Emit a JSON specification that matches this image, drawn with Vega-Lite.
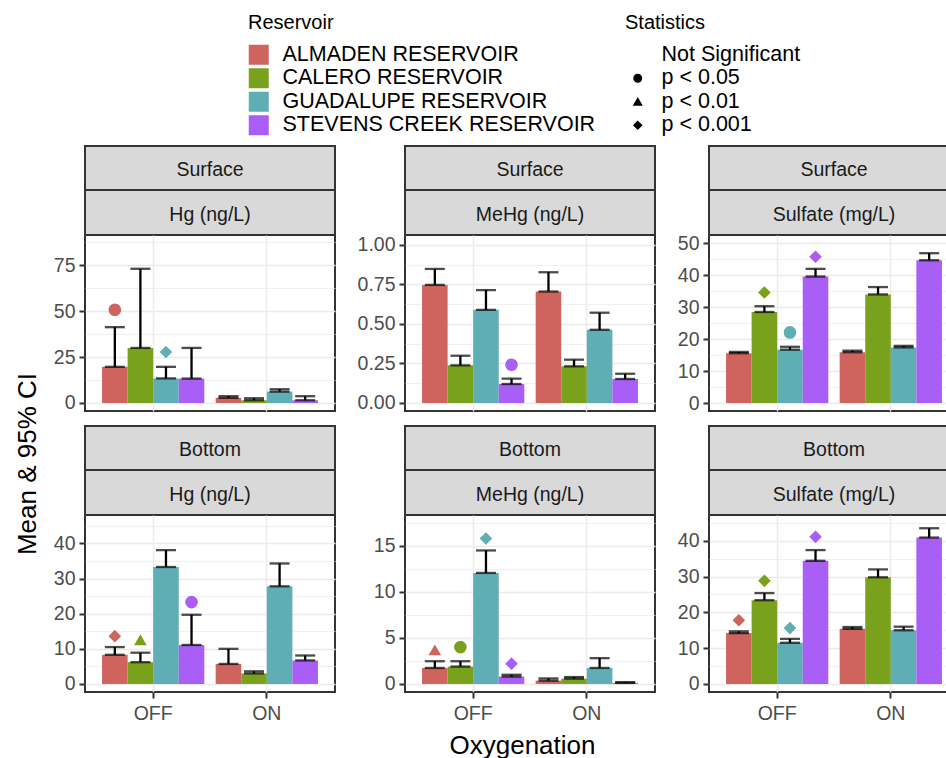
{
"$schema": "https://vega.github.io/schema/vega-lite/v6.json",
"padding": {"left": 12, "top": 13, "right": 0, "bottom": 0},
"columns": 3,
"spacing": {"row": 0, "column": 54},
"bounds": "flush",
"align": "each",
"datasets": {"d": [
{"pan":"S-Hg","oxy":"OFF","res":"ALMADEN RESERVOIR","mean":19.7,"upper":41.3,"stat":"p < 0.05","sy":50.8},
{"pan":"S-Hg","oxy":"OFF","res":"CALERO RESERVOIR","mean":30.0,"upper":73.1},
{"pan":"S-Hg","oxy":"OFF","res":"GUADALUPE RESERVOIR","mean":13.4,"upper":19.7,"stat":"p < 0.001","sy":27.8},
{"pan":"S-Hg","oxy":"OFF","res":"STEVENS CREEK RESERVOIR","mean":13.3,"upper":30.0},
{"pan":"S-Hg","oxy":"ON","res":"ALMADEN RESERVOIR","mean":2.8,"upper":3.7},
{"pan":"S-Hg","oxy":"ON","res":"CALERO RESERVOIR","mean":1.5,"upper":2.6},
{"pan":"S-Hg","oxy":"ON","res":"GUADALUPE RESERVOIR","mean":6.2,"upper":7.5},
{"pan":"S-Hg","oxy":"ON","res":"STEVENS CREEK RESERVOIR","mean":1.5,"upper":3.7},
{"pan":"S-MeHg","oxy":"OFF","res":"ALMADEN RESERVOIR","mean":0.747,"upper":0.848},
{"pan":"S-MeHg","oxy":"OFF","res":"CALERO RESERVOIR","mean":0.238,"upper":0.299},
{"pan":"S-MeHg","oxy":"OFF","res":"GUADALUPE RESERVOIR","mean":0.589,"upper":0.714},
{"pan":"S-MeHg","oxy":"OFF","res":"STEVENS CREEK RESERVOIR","mean":0.120,"upper":0.154,"stat":"p < 0.05","sy":0.242},
{"pan":"S-MeHg","oxy":"ON","res":"ALMADEN RESERVOIR","mean":0.705,"upper":0.827},
{"pan":"S-MeHg","oxy":"ON","res":"CALERO RESERVOIR","mean":0.232,"upper":0.274},
{"pan":"S-MeHg","oxy":"ON","res":"GUADALUPE RESERVOIR","mean":0.463,"upper":0.571},
{"pan":"S-MeHg","oxy":"ON","res":"STEVENS CREEK RESERVOIR","mean":0.152,"upper":0.185},
{"pan":"S-SO4","oxy":"OFF","res":"ALMADEN RESERVOIR","mean":15.6,"upper":16.0},
{"pan":"S-SO4","oxy":"OFF","res":"CALERO RESERVOIR","mean":28.5,"upper":30.3,"stat":"p < 0.001","sy":34.6},
{"pan":"S-SO4","oxy":"OFF","res":"GUADALUPE RESERVOIR","mean":16.7,"upper":17.6,"stat":"p < 0.05","sy":22.1},
{"pan":"S-SO4","oxy":"OFF","res":"STEVENS CREEK RESERVOIR","mean":39.6,"upper":42.0,"stat":"p < 0.001","sy":45.8},
{"pan":"S-SO4","oxy":"ON","res":"ALMADEN RESERVOIR","mean":15.9,"upper":16.4},
{"pan":"S-SO4","oxy":"ON","res":"CALERO RESERVOIR","mean":34.0,"upper":36.3},
{"pan":"S-SO4","oxy":"ON","res":"GUADALUPE RESERVOIR","mean":17.4,"upper":17.9},
{"pan":"S-SO4","oxy":"ON","res":"STEVENS CREEK RESERVOIR","mean":44.7,"upper":46.9},
{"pan":"B-Hg","oxy":"OFF","res":"ALMADEN RESERVOIR","mean":8.3,"upper":10.5,"stat":"p < 0.001","sy":13.6},
{"pan":"B-Hg","oxy":"OFF","res":"CALERO RESERVOIR","mean":6.2,"upper":8.9,"stat":"p < 0.01","sy":12.6},
{"pan":"B-Hg","oxy":"OFF","res":"GUADALUPE RESERVOIR","mean":33.3,"upper":38.1},
{"pan":"B-Hg","oxy":"OFF","res":"STEVENS CREEK RESERVOIR","mean":11.1,"upper":19.7,"stat":"p < 0.05","sy":23.3},
{"pan":"B-Hg","oxy":"ON","res":"ALMADEN RESERVOIR","mean":5.7,"upper":10.0},
{"pan":"B-Hg","oxy":"ON","res":"CALERO RESERVOIR","mean":3.0,"upper":3.6},
{"pan":"B-Hg","oxy":"ON","res":"GUADALUPE RESERVOIR","mean":27.8,"upper":34.3},
{"pan":"B-Hg","oxy":"ON","res":"STEVENS CREEK RESERVOIR","mean":6.7,"upper":8.1},
{"pan":"B-MeHg","oxy":"OFF","res":"ALMADEN RESERVOIR","mean":1.74,"upper":2.47,"stat":"p < 0.01","sy":3.7},
{"pan":"B-MeHg","oxy":"OFF","res":"CALERO RESERVOIR","mean":1.89,"upper":2.47,"stat":"p < 0.05","sy":4.0},
{"pan":"B-MeHg","oxy":"OFF","res":"GUADALUPE RESERVOIR","mean":12.06,"upper":14.5,"stat":"p < 0.001","sy":15.8},
{"pan":"B-MeHg","oxy":"OFF","res":"STEVENS CREEK RESERVOIR","mean":0.80,"upper":1.0,"stat":"p < 0.001","sy":2.2},
{"pan":"B-MeHg","oxy":"ON","res":"ALMADEN RESERVOIR","mean":0.36,"upper":0.6},
{"pan":"B-MeHg","oxy":"ON","res":"CALERO RESERVOIR","mean":0.58,"upper":0.75},
{"pan":"B-MeHg","oxy":"ON","res":"GUADALUPE RESERVOIR","mean":1.74,"upper":2.8},
{"pan":"B-MeHg","oxy":"ON","res":"STEVENS CREEK RESERVOIR","mean":0.11,"upper":0.2},
{"pan":"B-SO4","oxy":"OFF","res":"ALMADEN RESERVOIR","mean":14.2,"upper":14.7,"stat":"p < 0.001","sy":17.8},
{"pan":"B-SO4","oxy":"OFF","res":"CALERO RESERVOIR","mean":23.4,"upper":25.4,"stat":"p < 0.001","sy":28.8},
{"pan":"B-SO4","oxy":"OFF","res":"GUADALUPE RESERVOIR","mean":11.5,"upper":12.6,"stat":"p < 0.001","sy":15.6},
{"pan":"B-SO4","oxy":"OFF","res":"STEVENS CREEK RESERVOIR","mean":34.4,"upper":37.4,"stat":"p < 0.001","sy":41.1},
{"pan":"B-SO4","oxy":"ON","res":"ALMADEN RESERVOIR","mean":15.4,"upper":15.9},
{"pan":"B-SO4","oxy":"ON","res":"CALERO RESERVOIR","mean":29.8,"upper":32.0},
{"pan":"B-SO4","oxy":"ON","res":"GUADALUPE RESERVOIR","mean":15.0,"upper":16.0},
{"pan":"B-SO4","oxy":"ON","res":"STEVENS CREEK RESERVOIR","mean":40.9,"upper":43.5}
]},
"concat": [
{"width":250,"height":44,"view":{"fill":"#D9D9D9","stroke":"#333333","strokeWidth":2},"data":{"values":[{"t":"Surface"}]},"mark":{"type":"text","fontSize":19.5,"color":"#1A1A1A","dy":2},"encoding":{"text":{"field":"t","type":"nominal"}}},
{"width":250,"height":44,"view":{"fill":"#D9D9D9","stroke":"#333333","strokeWidth":2},"data":{"values":[{"t":"Surface"}]},"mark":{"type":"text","fontSize":19.5,"color":"#1A1A1A","dy":2},"encoding":{"text":{"field":"t","type":"nominal"}}},
{"width":250,"height":44,"view":{"fill":"#D9D9D9","stroke":"#333333","strokeWidth":2},"data":{"values":[{"t":"Surface"}]},"mark":{"type":"text","fontSize":19.5,"color":"#1A1A1A","dy":2},"encoding":{"text":{"field":"t","type":"nominal"}}},
{"width":250,"height":45,"view":{"fill":"#D9D9D9","stroke":"#333333","strokeWidth":2},"data":{"values":[{"t":"Hg (ng/L)"}]},"mark":{"type":"text","fontSize":19.5,"color":"#1A1A1A","dy":2},"encoding":{"text":{"field":"t","type":"nominal"}}},
{"width":250,"height":45,"view":{"fill":"#D9D9D9","stroke":"#333333","strokeWidth":2},"data":{"values":[{"t":"MeHg (ng/L)"}]},"mark":{"type":"text","fontSize":19.5,"color":"#1A1A1A","dy":2},"encoding":{"text":{"field":"t","type":"nominal"}}},
{"width":250,"height":45,"view":{"fill":"#D9D9D9","stroke":"#333333","strokeWidth":2},"data":{"values":[{"t":"Sulfate (mg/L)"}]},"mark":{"type":"text","fontSize":19.5,"color":"#1A1A1A","dy":2},"encoding":{"text":{"field":"t","type":"nominal"}}},
{"width":250,"height":176,"view":{"stroke":"#333333","strokeWidth":2},"data":{"name":"d"},"transform":[{"filter":"datum.pan === 'S-Hg'"}],
 "encoding":{"x":{"field":"oxy","type":"nominal","scale":{"domain":["OFF","ON"],"paddingInner":0.1,"paddingOuter":0.15},"axis":{"labels":false,"ticks":false,"grid":true,"bandPosition":0.5,"title":null}},
  "xOffset":{"field":"res","type":"nominal","scale":{"domain":["ALMADEN RESERVOIR","CALERO RESERVOIR","GUADALUPE RESERVOIR","STEVENS CREEK RESERVOIR"],"paddingInner":0,"paddingOuter":0}}},
 "layer":[
  {"mark":{"type":"bar"},"encoding":{"y":{"field":"mean","type":"quantitative","scale":{"domain":[-4.36,91.5],"nice":false,"zero":false},"axis":{"values":[0,25,50,75],"grid":true,"title":null}},
    "color":{"field":"res","type":"nominal","scale":{"domain":["ALMADEN RESERVOIR","CALERO RESERVOIR","GUADALUPE RESERVOIR","STEVENS CREEK RESERVOIR"],"range":["#CF635E","#7AA11B","#5FAEB5","#A95EF6"]},
     "legend":{"title":"Reservoir","orient":"none","legendX":163,"legendY":-133,"symbolType":"square","symbolSize":400,"symbolStrokeWidth":0,"labelOffset":13,"rowPadding":0.5,"titlePadding":11}}}},
  {"mark":{"type":"rule","color":"#000000","strokeWidth":2.3},"encoding":{"y":{"field":"mean","type":"quantitative","scale":{"domain":[-4.36,91.5],"nice":false,"zero":false},"axis":{"values":[12.5,37.5,62.5,87.5],"grid":true,"gridWidth":0.7,"labels":false,"ticks":false,"title":null}},"y2":{"field":"upper"}}},
  {"transform":[{"fold":["mean","upper"],"as":["k","v"]}],"mark":{"type":"tick","color":"#000000","size":20,"thickness":2.3},"encoding":{"y":{"field":"v","type":"quantitative","scale":{"domain":[-4.36,91.5],"nice":false,"zero":false},"axis":null}}},
  {"transform":[{"filter":"isValid(datum.sy)"}],"mark":{"type":"point","filled":true,"size":160,"opacity":1},"encoding":{"y":{"field":"sy","type":"quantitative","scale":{"domain":[-4.36,91.5],"nice":false,"zero":false},"axis":null},
    "color":{"field":"res","type":"nominal","scale":{"domain":["ALMADEN RESERVOIR","CALERO RESERVOIR","GUADALUPE RESERVOIR","STEVENS CREEK RESERVOIR"],"range":["#CF635E","#7AA11B","#5FAEB5","#A95EF6"]}},
    "shape":{"field":"stat","type":"nominal","scale":{"domain":["Not Significant","p < 0.05","p < 0.01","p < 0.001"],"range":["M0,0","circle","triangle-up","diamond"]},
     "legend":{"title":"Statistics","orient":"none","legendX":540,"legendY":-133,"symbolSize":55,"symbolFillColor":"#000000","symbolStrokeColor":"#000000","symbolOffset":2,"labelOffset":13,"rowPadding":0.5,"titlePadding":11}}}}
 ],
 "resolve":{"axis":{"y":"independent"}}},
{"width":250,"height":176,"view":{"stroke":"#333333","strokeWidth":2},"data":{"name":"d"},"transform":[{"filter":"datum.pan === 'S-MeHg'"}],
 "encoding":{"x":{"field":"oxy","type":"nominal","scale":{"domain":["OFF","ON"],"paddingInner":0.1,"paddingOuter":0.15},"axis":{"labels":false,"ticks":false,"grid":true,"bandPosition":0.5,"title":null}},
  "xOffset":{"field":"res","type":"nominal","scale":{"domain":["ALMADEN RESERVOIR","CALERO RESERVOIR","GUADALUPE RESERVOIR","STEVENS CREEK RESERVOIR"],"paddingInner":0,"paddingOuter":0}}},
 "layer":[
  {"mark":{"type":"bar"},"encoding":{"y":{"field":"mean","type":"quantitative","scale":{"domain":[-0.0506,1.0625],"nice":false,"zero":false},"axis":{"values":[0,0.25,0.5,0.75,1],"format":".2f","grid":true,"title":null}},
    "color":{"field":"res","type":"nominal","scale":{"domain":["ALMADEN RESERVOIR","CALERO RESERVOIR","GUADALUPE RESERVOIR","STEVENS CREEK RESERVOIR"],"range":["#CF635E","#7AA11B","#5FAEB5","#A95EF6"]}}}},
  {"mark":{"type":"rule","color":"#000000","strokeWidth":2.3},"encoding":{"y":{"field":"mean","type":"quantitative","scale":{"domain":[-0.0506,1.0625],"nice":false,"zero":false},"axis":{"values":[0.125,0.375,0.625,0.875],"grid":true,"gridWidth":0.7,"labels":false,"ticks":false,"title":null}},"y2":{"field":"upper"}}},
  {"transform":[{"fold":["mean","upper"],"as":["k","v"]}],"mark":{"type":"tick","color":"#000000","size":20,"thickness":2.3},"encoding":{"y":{"field":"v","type":"quantitative","scale":{"domain":[-0.0506,1.0625],"nice":false,"zero":false},"axis":null}}},
  {"transform":[{"filter":"isValid(datum.sy)"}],"mark":{"type":"point","filled":true,"size":160,"opacity":1},"encoding":{"y":{"field":"sy","type":"quantitative","scale":{"domain":[-0.0506,1.0625],"nice":false,"zero":false},"axis":null},
    "color":{"field":"res","type":"nominal","scale":{"domain":["ALMADEN RESERVOIR","CALERO RESERVOIR","GUADALUPE RESERVOIR","STEVENS CREEK RESERVOIR"],"range":["#CF635E","#7AA11B","#5FAEB5","#A95EF6"]}},
    "shape":{"field":"stat","type":"nominal","scale":{"domain":["Not Significant","p < 0.05","p < 0.01","p < 0.001"],"range":["M0,0","circle","triangle-up","diamond"]}}}}
 ],
 "resolve":{"axis":{"y":"independent"}}},
{"width":250,"height":176,"view":{"stroke":"#333333","strokeWidth":2},"data":{"name":"d"},"transform":[{"filter":"datum.pan === 'S-SO4'"}],
 "encoding":{"x":{"field":"oxy","type":"nominal","scale":{"domain":["OFF","ON"],"paddingInner":0.1,"paddingOuter":0.15},"axis":{"labels":false,"ticks":false,"grid":true,"bandPosition":0.5,"title":null}},
  "xOffset":{"field":"res","type":"nominal","scale":{"domain":["ALMADEN RESERVOIR","CALERO RESERVOIR","GUADALUPE RESERVOIR","STEVENS CREEK RESERVOIR"],"paddingInner":0,"paddingOuter":0}}},
 "layer":[
  {"mark":{"type":"bar"},"encoding":{"y":{"field":"mean","type":"quantitative","scale":{"domain":[-2.5,52.6],"nice":false,"zero":false},"axis":{"values":[0,10,20,30,40,50],"grid":true,"title":null}},
    "color":{"field":"res","type":"nominal","scale":{"domain":["ALMADEN RESERVOIR","CALERO RESERVOIR","GUADALUPE RESERVOIR","STEVENS CREEK RESERVOIR"],"range":["#CF635E","#7AA11B","#5FAEB5","#A95EF6"]}}}},
  {"mark":{"type":"rule","color":"#000000","strokeWidth":2.3},"encoding":{"y":{"field":"mean","type":"quantitative","scale":{"domain":[-2.5,52.6],"nice":false,"zero":false},"axis":{"values":[5,15,25,35,45],"grid":true,"gridWidth":0.7,"labels":false,"ticks":false,"title":null}},"y2":{"field":"upper"}}},
  {"transform":[{"fold":["mean","upper"],"as":["k","v"]}],"mark":{"type":"tick","color":"#000000","size":20,"thickness":2.3},"encoding":{"y":{"field":"v","type":"quantitative","scale":{"domain":[-2.5,52.6],"nice":false,"zero":false},"axis":null}}},
  {"transform":[{"filter":"isValid(datum.sy)"}],"mark":{"type":"point","filled":true,"size":160,"opacity":1},"encoding":{"y":{"field":"sy","type":"quantitative","scale":{"domain":[-2.5,52.6],"nice":false,"zero":false},"axis":null},
    "color":{"field":"res","type":"nominal","scale":{"domain":["ALMADEN RESERVOIR","CALERO RESERVOIR","GUADALUPE RESERVOIR","STEVENS CREEK RESERVOIR"],"range":["#CF635E","#7AA11B","#5FAEB5","#A95EF6"]}},
    "shape":{"field":"stat","type":"nominal","scale":{"domain":["Not Significant","p < 0.05","p < 0.01","p < 0.001"],"range":["M0,0","circle","triangle-up","diamond"]}}}}
 ],
 "resolve":{"axis":{"y":"independent"}}},
{"width":266,"height":15,"data":{"values":[{"t":""}]},"mark":{"type":"text"},"encoding":{"text":{"field":"t","type":"nominal"}}},
{"width":250,"height":15,"data":{"values":[{"t":""}]},"mark":{"type":"text"},"encoding":{"text":{"field":"t","type":"nominal"}}},
{"width":250,"height":15,"data":{"values":[{"t":""}]},"mark":{"type":"text"},"encoding":{"text":{"field":"t","type":"nominal"}}},
{"width":250,"height":44,"view":{"fill":"#D9D9D9","stroke":"#333333","strokeWidth":2},"data":{"values":[{"t":"Bottom"}]},"mark":{"type":"text","fontSize":19.5,"color":"#1A1A1A","dy":2},"encoding":{"text":{"field":"t","type":"nominal"}}},
{"width":250,"height":44,"view":{"fill":"#D9D9D9","stroke":"#333333","strokeWidth":2},"data":{"values":[{"t":"Bottom"}]},"mark":{"type":"text","fontSize":19.5,"color":"#1A1A1A","dy":2},"encoding":{"text":{"field":"t","type":"nominal"}}},
{"width":250,"height":44,"view":{"fill":"#D9D9D9","stroke":"#333333","strokeWidth":2},"data":{"values":[{"t":"Bottom"}]},"mark":{"type":"text","fontSize":19.5,"color":"#1A1A1A","dy":2},"encoding":{"text":{"field":"t","type":"nominal"}}},
{"width":250,"height":45,"view":{"fill":"#D9D9D9","stroke":"#333333","strokeWidth":2},"data":{"values":[{"t":"Hg (ng/L)"}]},"mark":{"type":"text","fontSize":19.5,"color":"#1A1A1A","dy":2},"encoding":{"text":{"field":"t","type":"nominal"}}},
{"width":250,"height":45,"view":{"fill":"#D9D9D9","stroke":"#333333","strokeWidth":2},"data":{"values":[{"t":"MeHg (ng/L)"}]},"mark":{"type":"text","fontSize":19.5,"color":"#1A1A1A","dy":2},"encoding":{"text":{"field":"t","type":"nominal"}}},
{"width":250,"height":45,"view":{"fill":"#D9D9D9","stroke":"#333333","strokeWidth":2},"data":{"values":[{"t":"Sulfate (mg/L)"}]},"mark":{"type":"text","fontSize":19.5,"color":"#1A1A1A","dy":2},"encoding":{"text":{"field":"t","type":"nominal"}}},
{"width":250,"height":177,"view":{"stroke":"#333333","strokeWidth":2},"data":{"name":"d"},"transform":[{"filter":"datum.pan === 'B-Hg'"}],
 "encoding":{"x":{"field":"oxy","type":"nominal","scale":{"domain":["OFF","ON"],"paddingInner":0.1,"paddingOuter":0.15},"axis":{"labelAngle":0,"labelPadding":6,"grid":true,"bandPosition":0.5,"title":null}},
  "xOffset":{"field":"res","type":"nominal","scale":{"domain":["ALMADEN RESERVOIR","CALERO RESERVOIR","GUADALUPE RESERVOIR","STEVENS CREEK RESERVOIR"],"paddingInner":0,"paddingOuter":0}}},
 "layer":[
  {"mark":{"type":"bar"},"encoding":{"y":{"field":"mean","type":"quantitative","scale":{"domain":[-2.29,48.1],"nice":false,"zero":false},"axis":{"values":[0,10,20,30,40],"grid":true,"title":"Mean & 95% CI","titleX":-58,"titleY":-51.5,"titleAngle":-90,"titleAlign":"center","titleBaseline":"middle"}},
    "color":{"field":"res","type":"nominal","scale":{"domain":["ALMADEN RESERVOIR","CALERO RESERVOIR","GUADALUPE RESERVOIR","STEVENS CREEK RESERVOIR"],"range":["#CF635E","#7AA11B","#5FAEB5","#A95EF6"]}}}},
  {"mark":{"type":"rule","color":"#000000","strokeWidth":2.3},"encoding":{"y":{"field":"mean","type":"quantitative","scale":{"domain":[-2.29,48.1],"nice":false,"zero":false},"axis":{"values":[5,15,25,35,45],"grid":true,"gridWidth":0.7,"labels":false,"ticks":false,"title":null}},"y2":{"field":"upper"}}},
  {"transform":[{"fold":["mean","upper"],"as":["k","v"]}],"mark":{"type":"tick","color":"#000000","size":20,"thickness":2.3},"encoding":{"y":{"field":"v","type":"quantitative","scale":{"domain":[-2.29,48.1],"nice":false,"zero":false},"axis":null}}},
  {"transform":[{"filter":"isValid(datum.sy)"}],"mark":{"type":"point","filled":true,"size":160,"opacity":1},"encoding":{"y":{"field":"sy","type":"quantitative","scale":{"domain":[-2.29,48.1],"nice":false,"zero":false},"axis":null},
    "color":{"field":"res","type":"nominal","scale":{"domain":["ALMADEN RESERVOIR","CALERO RESERVOIR","GUADALUPE RESERVOIR","STEVENS CREEK RESERVOIR"],"range":["#CF635E","#7AA11B","#5FAEB5","#A95EF6"]}},
    "shape":{"field":"stat","type":"nominal","scale":{"domain":["Not Significant","p < 0.05","p < 0.01","p < 0.001"],"range":["M0,0","circle","triangle-up","diamond"]}}}}
 ],
 "resolve":{"axis":{"y":"independent"}}},
{"width":250,"height":177,"view":{"stroke":"#333333","strokeWidth":2},"data":{"name":"d"},"transform":[{"filter":"datum.pan === 'B-MeHg'"}],
 "encoding":{"x":{"field":"oxy","type":"nominal","scale":{"domain":["OFF","ON"],"paddingInner":0.1,"paddingOuter":0.15},"axis":{"labelAngle":0,"labelPadding":6,"grid":true,"bandPosition":0.5,"title":"Oxygenation","titleX":117,"titleY":53,"titleAlign":"center","titleBaseline":"middle"}},
  "xOffset":{"field":"res","type":"nominal","scale":{"domain":["ALMADEN RESERVOIR","CALERO RESERVOIR","GUADALUPE RESERVOIR","STEVENS CREEK RESERVOIR"],"paddingInner":0,"paddingOuter":0}}},
 "layer":[
  {"mark":{"type":"bar"},"encoding":{"y":{"field":"mean","type":"quantitative","scale":{"domain":[-0.874,18.35],"nice":false,"zero":false},"axis":{"values":[0,5,10,15],"grid":true,"title":null}},
    "color":{"field":"res","type":"nominal","scale":{"domain":["ALMADEN RESERVOIR","CALERO RESERVOIR","GUADALUPE RESERVOIR","STEVENS CREEK RESERVOIR"],"range":["#CF635E","#7AA11B","#5FAEB5","#A95EF6"]}}}},
  {"mark":{"type":"rule","color":"#000000","strokeWidth":2.3},"encoding":{"y":{"field":"mean","type":"quantitative","scale":{"domain":[-0.874,18.35],"nice":false,"zero":false},"axis":{"values":[2.5,7.5,12.5,17.5],"grid":true,"gridWidth":0.7,"labels":false,"ticks":false,"title":null}},"y2":{"field":"upper"}}},
  {"transform":[{"fold":["mean","upper"],"as":["k","v"]}],"mark":{"type":"tick","color":"#000000","size":20,"thickness":2.3},"encoding":{"y":{"field":"v","type":"quantitative","scale":{"domain":[-0.874,18.35],"nice":false,"zero":false},"axis":null}}},
  {"transform":[{"filter":"isValid(datum.sy)"}],"mark":{"type":"point","filled":true,"size":160,"opacity":1},"encoding":{"y":{"field":"sy","type":"quantitative","scale":{"domain":[-0.874,18.35],"nice":false,"zero":false},"axis":null},
    "color":{"field":"res","type":"nominal","scale":{"domain":["ALMADEN RESERVOIR","CALERO RESERVOIR","GUADALUPE RESERVOIR","STEVENS CREEK RESERVOIR"],"range":["#CF635E","#7AA11B","#5FAEB5","#A95EF6"]}},
    "shape":{"field":"stat","type":"nominal","scale":{"domain":["Not Significant","p < 0.05","p < 0.01","p < 0.001"],"range":["M0,0","circle","triangle-up","diamond"]}}}}
 ],
 "resolve":{"axis":{"y":"independent"}}},
{"width":250,"height":177,"view":{"stroke":"#333333","strokeWidth":2},"data":{"name":"d"},"transform":[{"filter":"datum.pan === 'B-SO4'"}],
 "encoding":{"x":{"field":"oxy","type":"nominal","scale":{"domain":["OFF","ON"],"paddingInner":0.1,"paddingOuter":0.15},"axis":{"labelAngle":0,"labelPadding":6,"grid":true,"bandPosition":0.5,"title":null}},
  "xOffset":{"field":"res","type":"nominal","scale":{"domain":["ALMADEN RESERVOIR","CALERO RESERVOIR","GUADALUPE RESERVOIR","STEVENS CREEK RESERVOIR"],"paddingInner":0,"paddingOuter":0}}},
 "layer":[
  {"mark":{"type":"bar"},"encoding":{"y":{"field":"mean","type":"quantitative","scale":{"domain":[-2.25,47.2],"nice":false,"zero":false},"axis":{"values":[0,10,20,30,40],"grid":true,"title":null}},
    "color":{"field":"res","type":"nominal","scale":{"domain":["ALMADEN RESERVOIR","CALERO RESERVOIR","GUADALUPE RESERVOIR","STEVENS CREEK RESERVOIR"],"range":["#CF635E","#7AA11B","#5FAEB5","#A95EF6"]}}}},
  {"mark":{"type":"rule","color":"#000000","strokeWidth":2.3},"encoding":{"y":{"field":"mean","type":"quantitative","scale":{"domain":[-2.25,47.2],"nice":false,"zero":false},"axis":{"values":[5,15,25,35,45],"grid":true,"gridWidth":0.7,"labels":false,"ticks":false,"title":null}},"y2":{"field":"upper"}}},
  {"transform":[{"fold":["mean","upper"],"as":["k","v"]}],"mark":{"type":"tick","color":"#000000","size":20,"thickness":2.3},"encoding":{"y":{"field":"v","type":"quantitative","scale":{"domain":[-2.25,47.2],"nice":false,"zero":false},"axis":null}}},
  {"transform":[{"filter":"isValid(datum.sy)"}],"mark":{"type":"point","filled":true,"size":160,"opacity":1},"encoding":{"y":{"field":"sy","type":"quantitative","scale":{"domain":[-2.25,47.2],"nice":false,"zero":false},"axis":null},
    "color":{"field":"res","type":"nominal","scale":{"domain":["ALMADEN RESERVOIR","CALERO RESERVOIR","GUADALUPE RESERVOIR","STEVENS CREEK RESERVOIR"],"range":["#CF635E","#7AA11B","#5FAEB5","#A95EF6"]}},
    "shape":{"field":"stat","type":"nominal","scale":{"domain":["Not Significant","p < 0.05","p < 0.01","p < 0.001"],"range":["M0,0","circle","triangle-up","diamond"]}}}}
 ],
 "resolve":{"axis":{"y":"independent"}}}
],
"resolve":{"scale":{"color":"shared","shape":"shared","x":"independent","y":"independent"},"legend":{"color":"shared","shape":"shared"}},
"config":{
 "font":"Liberation Sans",
 "view":{"stroke":null},
 "axis":{"labelFont":"Liberation Sans","labelFontSize":19.5,"labelColor":"#4D4D4D","tickColor":"#333333","tickWidth":2,"tickSize":6,"labelPadding":4,"gridColor":"#EBEBEB","gridWidth":1.4,"domain":false,"titleFont":"Liberation Sans","titleFontSize":26,"titleFontWeight":"normal","titleColor":"#000000"},
 "legend":{"titleFont":"Liberation Sans","titleFontSize":20,"titleFontWeight":"normal","titleColor":"#000000","labelFont":"Liberation Sans","labelFontSize":21.5,"labelColor":"#000000","padding":0,"labelLimit":400},
 "text":{"font":"Liberation Sans"}
}
}
